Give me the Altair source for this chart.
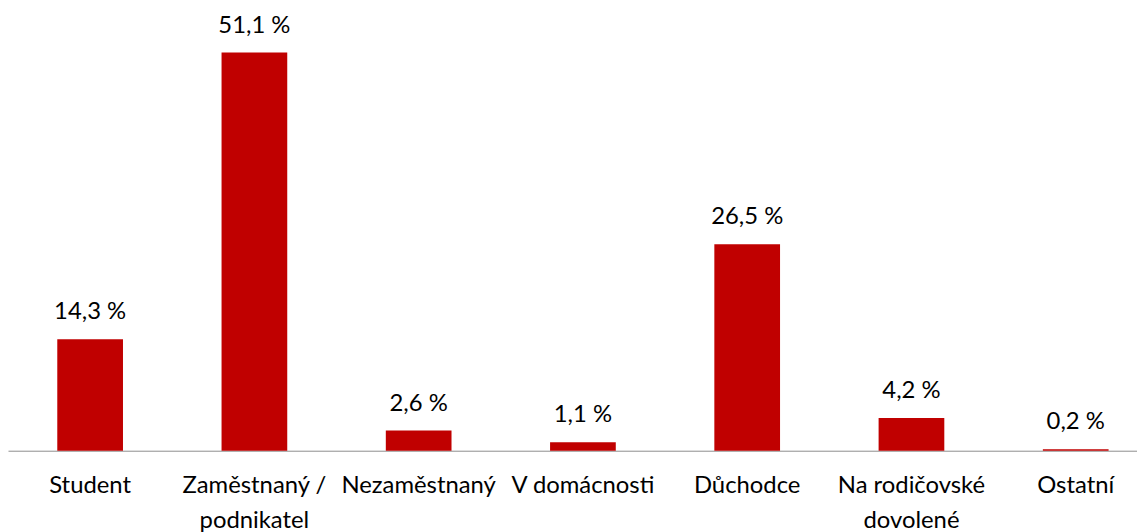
import altair as alt
import pandas as pd

categories = ["Student", "Zaměstnaný / podnikatel", "Nezaměstnaný", "V domácnosti",
              "Důchodce", "Na rodičovské dovolené", "Ostatní"]
values = [14.3, 51.1, 2.6, 1.1, 26.5, 4.2, 0.2]
value_labels = ["14,3 %", "51,1 %", "2,6 %", "1,1 %", "26,5 %", "4,2 %", "0,2 %"]
wrapped = {
    "Zaměstnaný / podnikatel": ["Zaměstnaný /", "podnikatel"],
    "Na rodičovské dovolené": ["Na rodičovské", "dovolené"],
}

df = pd.DataFrame({"cat": categories, "val": values, "lbl": value_labels})

label_expr = ""
for k, v in wrapped.items():
    label_expr += f"datum.label == '{k}' ? ['{v[0]}', '{v[1]}'] : "
label_expr += "datum.label"

FONT = "Lato"
FS = 24

x = alt.X("cat:N", sort=categories, title=None,
          scale=alt.Scale(range=[0, 1158], paddingInner=0.6, paddingOuter=0.3, round=False),
          axis=alt.Axis(labelExpr=label_expr, labelAngle=0, ticks=False, tickSize=0,
                        labelPadding=23, labelLineHeight=35, labelFont=FONT,
                        labelFontSize=FS, labelColor="#000000", domainColor="#8c8c8c",
                        domainWidth=1, labelBaseline="top", labelLimit=300))
y = alt.Y("val:Q", title=None, scale=alt.Scale(domain=[0, 56.58], nice=False), axis=None)

bars = alt.Chart(df).mark_bar(color="#C00000").encode(x=x, y=y)
texts = alt.Chart(df).mark_text(font=FONT, fontSize=FS, color="#000000",
                                baseline="alphabetic", dy=-20).encode(
    x=alt.X("cat:N", sort=categories), y="val:Q", text="lbl:N")

chart = (bars + texts).properties(
    width=1137, height=444,
    autosize=alt.AutoSizeParams(type="none"),
    padding={"left": 0, "top": 0, "right": 0, "bottom": 80},
).configure_view(stroke=None)

chart.save("out.html", embed_options={"renderer": "svg", "actions": False})
